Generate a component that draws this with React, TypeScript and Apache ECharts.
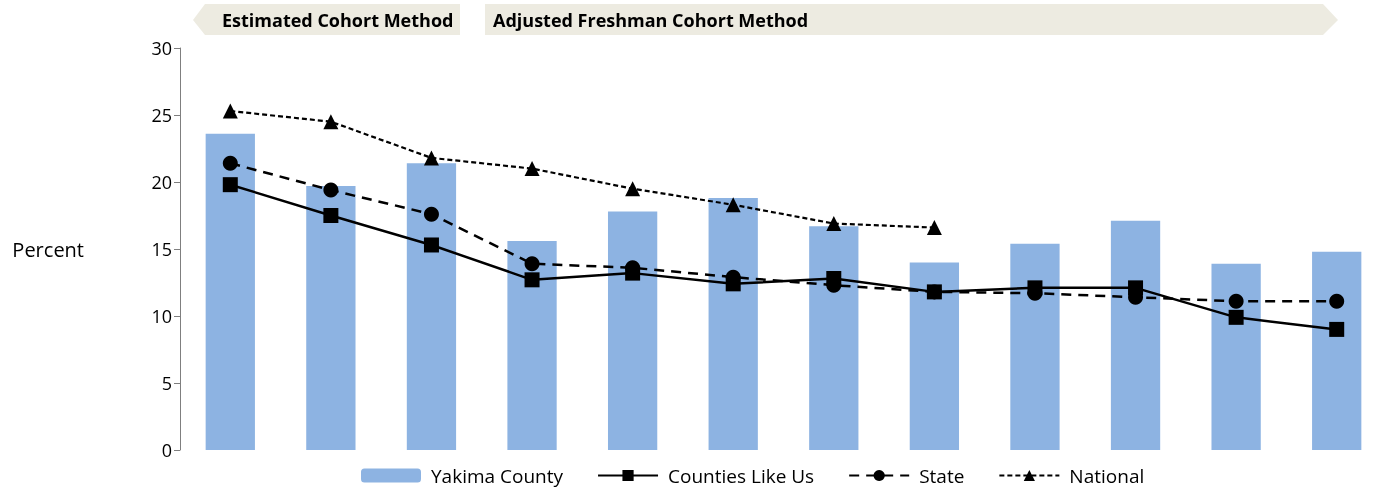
import React, { useEffect, useRef } from "react";
import * as echarts from "echarts";

const categories = ["1", "2", "3", "4", "5", "6", "7", "8", "9", "10", "11", "12"];
const yakimaCounty = [23.6, 19.7, 21.4, 15.6, 17.8, 18.8, 16.7, 14.0, 15.4, 17.1, 13.9, 14.8];
const countiesLikeUs = [19.8, 17.5, 15.3, 12.7, 13.2, 12.4, 12.8, 11.8, 12.1, 12.1, 9.9, 9.0];
const stateValues = [21.4, 19.4, 17.6, 13.9, 13.6, 12.9, 12.3, 11.8, 11.7, 11.4, 11.1, 11.1];
const nationalValues = [25.3, 24.5, 21.8, 21.0, 19.5, 18.3, 16.9, 16.6, null, null, null, null];
const yTicks = { min: 0, max: 30, interval: 5 };
const bannerLabels = ["Estimated Cohort Method", "Adjusted Freshman Cohort Method"];

const FONT = "'Open Sans', 'Noto Sans', sans-serif";

export default function App() {
  const ref = useRef<HTMLDivElement>(null);
  useEffect(() => {
    if (!ref.current) return;
    const chart = echarts.init(ref.current, null, { renderer: "svg" });
    const bannerFill = "#EDEBE1";
    chart.setOption({
      animation: false,
      textStyle: { fontFamily: FONT },
      grid: { left: 180, right: 9, top: 48, bottom: 45, containLabel: false },
      legend: {
        bottom: 5,
        left: 356,
        itemWidth: 60,
        itemHeight: 14,
        itemGap: 34,
        textStyle: { fontFamily: FONT, fontSize: 19, color: "#000", padding: [0, 0, 0, 5] },
        data: ["Yakima County", "Counties Like Us", "State", "National"],
      },
      xAxis: {
        type: "category",
        data: categories,
        axisLine: { show: false },
        axisTick: { show: false },
        axisLabel: { show: false },
      },
      yAxis: {
        type: "value",
        min: yTicks.min,
        max: yTicks.max,
        interval: yTicks.interval,
        name: "Percent",
        nameLocation: "middle",
        nameRotate: 0,
        nameGap: 96,
        nameTextStyle: { fontFamily: FONT, fontSize: 20, color: "#000" },
        axisLine: { show: true, lineStyle: { color: "#7f7f7f", width: 1 } },
        axisTick: { show: true, length: 6, lineStyle: { color: "#7f7f7f" } },
        axisLabel: { fontFamily: FONT, fontSize: 18, color: "#000", margin: 8 },
        splitLine: { show: false },
      },
      series: [
        {
          name: "Yakima County",
          type: "bar",
          data: yakimaCounty,
          barWidth: "49%",
          itemStyle: { color: "#8DB3E2" },
        },
        {
          name: "Counties Like Us",
          type: "line",
          data: countiesLikeUs,
          symbol: "rect",
          symbolSize: 15,
          itemStyle: { color: "#000" },
          lineStyle: { color: "#000", width: 2.5, type: "solid" },
        },
        {
          name: "State",
          type: "line",
          data: stateValues,
          symbol: "circle",
          symbolSize: 15,
          itemStyle: { color: "#000" },
          lineStyle: { color: "#000", width: 2.5, type: [10, 7] },
        },
        {
          name: "National",
          type: "line",
          data: nationalValues,
          symbol: "triangle",
          symbolSize: 15,
          connectNulls: false,
          itemStyle: { color: "#000" },
          lineStyle: { color: "#000", width: 2.2, type: [5, 3] },
        },
      ],
      graphic: [
        {
          type: "polygon",
          shape: { points: [[193, 20], [205, 4], [460, 4], [460, 35], [205, 35]] },
          style: { fill: bannerFill },
          silent: true,
        },
        {
          type: "polygon",
          shape: { points: [[485, 4], [1323, 4], [1338, 20], [1323, 35], [485, 35]] },
          style: { fill: bannerFill },
          silent: true,
        },
        {
          type: "text",
          x: 222,
          y: 20,
          style: {
            text: bannerLabels[0],
            fontFamily: FONT,
            fontWeight: "bold",
            fontSize: 18,
            fill: "#000",
            verticalAlign: "middle",
          },
        },
        {
          type: "text",
          x: 493,
          y: 20,
          style: {
            text: bannerLabels[1],
            fontFamily: FONT,
            fontWeight: "bold",
            fontSize: 18,
            fill: "#000",
            verticalAlign: "middle",
          },
        },
      ],
    });
    return () => chart.dispose();
  }, []);
  return (
    <div
      ref={ref}
      style={{ position: "fixed", left: 0, top: 0, width: 1396, height: 495 }}
    />
  );
}
